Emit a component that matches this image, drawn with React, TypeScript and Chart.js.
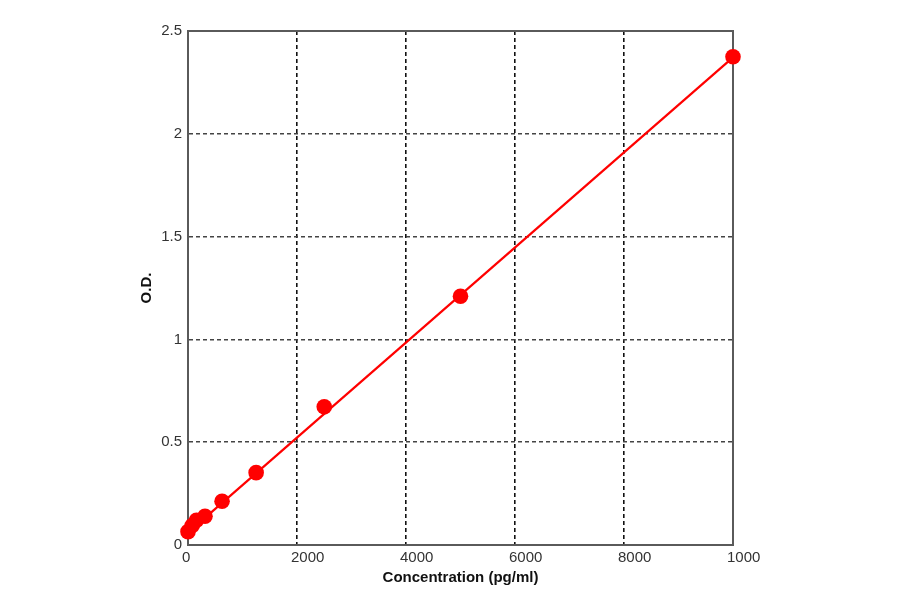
import { useEffect, useRef } from 'react'
import { Chart, registerables } from 'chart.js'

Chart.register(...registerables)

// standard curve
const concentrations = [0, 78, 156, 312, 625, 1250, 2500, 5000, 10000]
const odValues = [0.065, 0.095, 0.12, 0.14, 0.213, 0.352, 0.672, 1.21, 2.375]

// fitted line end points
const fitX = [0, 10000]
const fitY = [0.06, 2.372]

const xTicks = [0, 2000, 4000, 6000, 8000, 10000]
const xTickLabels = ['0', '2000', '4000', '6000', '8000', '1000']
const yTicks = [0, 0.5, 1, 1.5, 2, 2.5]
const yTickLabels = ['0', '0.5', '1', '1.5', '2', '2.5']

const RED = '#ff0000'
const FONT = "'Liberation Sans', Arial, sans-serif"

/** Grey frame round the plot area (top and right edges included). */
const framePlugin = {
  id: 'frame',
  beforeDatasetsDraw(chart: Chart) {
    const { ctx, chartArea: a } = chart
    ctx.save()
    ctx.strokeStyle = '#5a5a5a'
    ctx.lineWidth = 2
    ctx.strokeRect(a.left, a.top, a.right - a.left, a.bottom - a.top)
    ctx.restore()
  },
}

export default function App() {
  const canvasRef = useRef<HTMLCanvasElement>(null)
  const chartRef = useRef<Chart | null>(null)

  useEffect(() => {
    document.body.style.margin = '0'
    if (!canvasRef.current) return
    const ctx = canvasRef.current.getContext('2d')
    if (!ctx) return

    if (chartRef.current) {
      chartRef.current.destroy()
      chartRef.current = null
    }

    chartRef.current = new Chart(ctx, {
      type: 'scatter',
      data: {
        datasets: [
          {
            type: 'line',
            data: fitX.map((x, i) => ({ x, y: fitY[i] })),
            borderColor: RED,
            borderWidth: 2.2,
            pointRadius: 0,
            fill: false,
            clip: false,
          },
          {
            data: concentrations.map((x, i) => ({ x, y: odValues[i] })),
            backgroundColor: RED,
            borderColor: RED,
            borderWidth: 0,
            pointRadius: 7.8,
            pointHoverRadius: 7.8,
            clip: false,
          },
        ],
      },
      options: {
        responsive: true,
        maintainAspectRatio: false,
        animation: false,
        layout: { padding: { left: 137, top: 31, right: 167, bottom: 0 } },
        plugins: {
          legend: { display: false },
          tooltip: { enabled: false },
        },
        scales: {
          x: {
            type: 'linear',
            min: 0,
            max: 10000,
            afterBuildTicks: (s) => {
              s.ticks = xTicks.map((value) => ({ value }))
            },
            afterFit: (s) => {
              s.height = 49
            },
            grid: { color: '#111', lineWidth: 1.6, drawTicks: false },
            border: { color: '#5a5a5a', width: 2, dash: [4, 3] },
            ticks: {
              color: '#333',
              font: { family: FONT, size: 15 },
              align: 'start',
              labelOffset: -6,
              padding: 4,
              maxRotation: 0,
              autoSkip: false,
              callback: (_v, i) => xTickLabels[i],
            },
            title: {
              display: true,
              text: 'Concentration (pg/ml)',
              color: '#111',
              font: { family: FONT, size: 15, weight: 'bold' },
              padding: { top: 0, bottom: 7 },
            },
          },
          y: {
            min: 0,
            max: 2.5,
            afterBuildTicks: (s) => {
              s.ticks = yTicks.map((value) => ({ value }))
            },
            afterFit: (s) => {
              s.width = 51
            },
            grid: { color: '#444', lineWidth: 1.6, drawTicks: false },
            border: { color: '#5a5a5a', width: 2, dash: [4, 3] },
            ticks: {
              color: '#333',
              font: { family: FONT, size: 15 },
              padding: 6,
              autoSkip: false,
              callback: (_v, i) => yTickLabels[i],
            },
            title: {
              display: true,
              text: 'O.D.',
              color: '#111',
              font: { family: FONT, size: 15, weight: 'bold' },
              padding: { top: 1, bottom: 1 },
            },
          },
        },
      },
      plugins: [framePlugin],
    })

    return () => {
      if (chartRef.current) {
        chartRef.current.destroy()
        chartRef.current = null
      }
    }
  }, [])

  return (
    <div style={{ width: 900, height: 594, background: '#fff' }}>
      <canvas ref={canvasRef} />
    </div>
  )
}
